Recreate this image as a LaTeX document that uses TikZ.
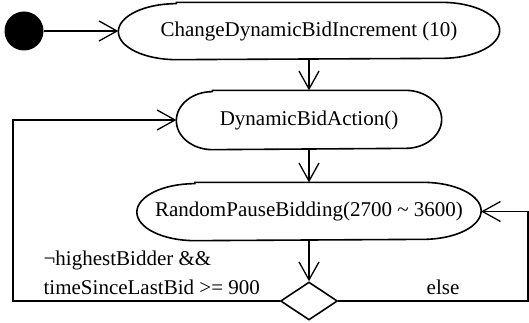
\documentclass[tikz,border=0pt]{standalone}
\usepackage{fontspec}
\setmainfont{Liberation Serif}
\newfontfamily\tnr{Liberation Serif}
\usetikzlibrary{arrows.meta,shapes.geometric}
\newcommand\stadiumoutline[3]{%
  \draw[line width=1.6pt] ([xshift=#2]#1.north west) -- ([xshift=-#2]#1.north east)
    arc[start angle=90,end angle=-90,x radius=#2,y radius=#3]
    -- ([xshift=#2]#1.south west)
    arc[start angle=270,end angle=90,x radius=#2,y radius=#3] -- cycle;}
\begin{document}
\begin{tikzpicture}[x=1pt,y=-1pt,line width=1.3pt,
  act/.style={rectangle,inner sep=0pt,font=\tnr\fontsize{21}{24}\selectfont},
  arr/.style={-{Straight Barb[length=18pt,width=20pt,line width=1.3pt]}},
  lbl/.style={font=\tnr\fontsize{21}{24}\selectfont,inner sep=0pt,anchor=west}]
\useasboundingbox (0,0) rectangle (529,323);
\node[circle,fill,minimum size=39pt,inner sep=0pt] (start) at (24,31) {};
\node[act,minimum width=380pt,minimum height=56pt] (n1) at (309,31) {ChangeDynamicBidIncrement (10)};
\node[act,minimum width=264pt,minimum height=58pt] (n2) at (309,120) {DynamicBidAction()};
\node[act,minimum width=343pt,minimum height=57pt] (n3) at (309,211.5) {RandomPauseBidding(2700 \textasciitilde{} 3600)};
\node[diamond,draw,line width=1.6pt,minimum width=57pt,minimum height=38pt,inner sep=0pt] (d) at (309,301) {};
\stadiumoutline{n1}{58pt}{28pt}
\stadiumoutline{n2}{36pt}{29pt}
\stadiumoutline{n3}{58pt}{28.5pt}
\coordinate (lc) at (13,301);
\coordinate (rc) at (528,301);
\draw[arr] (start) -- (n1.west);
\draw[arr] (n1.south) -- (n2.north);
\draw[arr] (n2.south) -- (n3.north);
\draw[arr] (n3.south) -- (d.north);
\draw[arr] (d.west) -- (lc) |- (n2.west);
\draw[arr] (d.east) -- (rc) |- (n3.east);
\node[lbl] (g1) at (43,260) {¬highestBidder \&\&};
\node[lbl] (g2) at (43,287) {timeSinceLastBid >= 900};
\node[lbl,anchor=center] (g3) at (443,287) {else};
\end{tikzpicture}
\end{document}
